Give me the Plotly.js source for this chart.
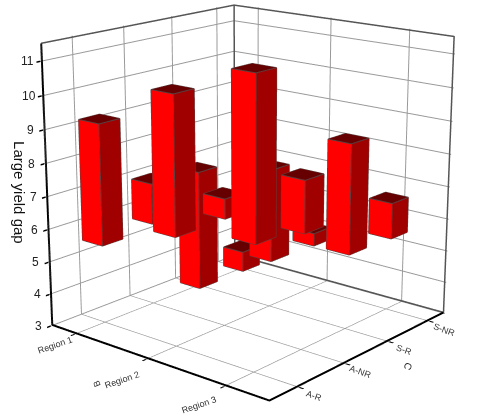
<!DOCTYPE html>
<html><head><meta charset="utf-8">
<script src="https://cdn.plot.ly/plotly-3.0.1.min.js"></script>
<style>html,body{margin:0;padding:0;width:500px;height:418px;overflow:hidden;background:#fff}
#wrap{position:absolute;left:0;top:0;width:500px;height:418px;overflow:hidden}
#plot{position:absolute;left:-500px;top:-444px;width:1500px;height:1254px}</style>
</head><body><div id="wrap"><div id="plot"></div></div>
<script>
const regions = ['Region 1','Region 2','Region 3'];
const categories = ['A-R','A-NR','S-R','S-NR'];
const lowValues = [
  [5.6,5.75,3.1,3.1],
  [6.48,6.5,4.65,4.6],
  [6.9,6.67,5.5,5.45]];
const highValues = [
  [9.25,7.0,6.9,3.75],
  [10.55,7.1,7.5,5.0],
  [11.53,8.2,8.8,6.55]];
const zTicks = [3,4,5,6,7,8,9,10,11];
const xTitle = 'B', yTitle = 'C', zTitle = 'Large yield gap';
const barHalfX = 0.143, barHalfY = 0.2;
const xRange = [0.65,3.55], yRange = [0.4,4.4], zRange = [3,11.55];
const regionLabelShift = [[-20,-12],[-25,-22],[-26,-20]];

const X=[],Y=[],Z=[],I=[],J=[],K=[],FC=[];
const ex=[],ey=[],ez=[];
const faces = [
  {q:[0,1,5,4],c:'#FF0000'},
  {q:[1,2,6,5],c:'#A00000'},
  {q:[4,5,6,7],c:'#660000'},
  {q:[0,1,2,3],c:'#FF0000'},
  {q:[0,3,7,4],c:'#FF0000'},
  {q:[3,2,6,7],c:'#A00000'}];
regions.forEach((r,ri)=>categories.forEach((c,ci)=>{
  const x0=ri+1-barHalfX,x1=ri+1+barHalfX,y0=ci+1-barHalfY,y1=ci+1+barHalfY,z0=lowValues[ri][ci],z1=highValues[ri][ci];
  const v=[[x0,y0,z0],[x1,y0,z0],[x1,y1,z0],[x0,y1,z0],[x0,y0,z1],[x1,y0,z1],[x1,y1,z1],[x0,y1,z1]];
  const b=X.length;
  v.forEach(p=>{X.push(p[0]);Y.push(p[1]);Z.push(p[2]);});
  faces.forEach(f=>{
    I.push(b+f.q[0]);J.push(b+f.q[1]);K.push(b+f.q[2]);FC.push(f.c);
    I.push(b+f.q[0]);J.push(b+f.q[2]);K.push(b+f.q[3]);FC.push(f.c);
  });
  [[0,1],[1,2],[0,4],[1,5],[2,6],[4,5],[5,6],[6,7],[7,4]].forEach(e=>{
    ex.push(v[e[0]][0],v[e[1]][0],null);ey.push(v[e[0]][1],v[e[1]][1],null);ez.push(v[e[0]][2],v[e[1]][2],null);
  });
}));
const bars={type:'mesh3d',x:X,y:Y,z:Z,i:I,j:J,k:K,facecolor:FC,flatshading:true,
  lighting:{ambient:1,diffuse:0,specular:0,roughness:1,fresnel:0},hoverinfo:'skip',showscale:false};
const edges={type:'scatter3d',mode:'lines',x:ex,y:ey,z:ez,line:{color:'#5a4040',width:2},hoverinfo:'skip',showlegend:false};
const inset=(r)=>{const d=(r[1]-r[0])*0.004;return [r[0]+d,r[1]-d];};
const [a0,a1]=inset(xRange),[b0,b1]=inset(yRange),[c0,c1]=inset(zRange);
const frame={type:'scatter3d',mode:'lines',hoverinfo:'skip',showlegend:false,line:{color:'#555',width:3},
 x:[a0,a0,null,a0,a1,a1,null,a0,a0,a1,a1,null,a0,a0],
 y:[b0,b0,null,b1,b1,b1,null,b0,b1,b1,b1,null,b1,b1],
 z:[c0,c1,null,c0,c0,c0,null,c1,c1,c1,c0,null,c0,c1]};
const black={type:'scatter3d',mode:'lines',hoverinfo:'skip',showlegend:false,line:{color:'#000',width:4},
 x:[a0,a0,null,a0,a1,a1],y:[b0,b0,null,b0,b0,b1],z:[c1,c0,null,c0,c0,c0]};
const tf={family:'Liberation Sans, Arial, sans-serif',size:9,color:'#333'};
const ann=[];
regions.forEach((r,i)=>ann.push({x:i+1,y:b0,z:c0,text:r,showarrow:false,textangle:-19,font:tf,xshift:regionLabelShift[i][0],yshift:regionLabelShift[i][1]}));
categories.forEach((r,i)=>ann.push({x:a1,y:i+1,z:c0,text:r,showarrow:false,textangle:20,font:tf,xshift:16,yshift:-10}));
zTicks.forEach(t=>ann.push({x:a0,y:b0,z:t,text:String(t),showarrow:false,font:{family:tf.family,size:12,color:'#222'},xshift:-14,yshift:0}));
ann.push({x:2,y:b0,z:c0,text:xTitle,showarrow:false,textangle:-110,font:tf,xshift:-50,yshift:-26});
ann.push({x:a1,y:2.8,z:c0,text:yTitle,showarrow:false,textangle:110,font:{family:tf.family,size:10,color:'#222'},xshift:28,yshift:-22});
ann.push({x:a0,y:b0,z:7.15,text:zTitle,showarrow:false,textangle:90,font:{family:tf.family,size:15,color:'#111'},xshift:-27,yshift:0});
const ax=(rng,tv)=>({range:rng,autorange:false,tickmode:'array',tickvals:tv,ticktext:tv.map(()=>''),showticklabels:false,
  showbackground:false,showgrid:true,gridcolor:'#999',gridwidth:2,zeroline:false,showline:false,showspikes:false,ticks:'outside',ticklen:4,tickwidth:3,tickcolor:'#000',title:{text:''}});
Plotly.newPlot('plot',[bars,edges,frame,black],{
 width:1500,height:1254,margin:{l:0,r:0,t:0,b:0},paper_bgcolor:'#fff',showlegend:false,
 scene:{domain:{x:[0,1],y:[0,1]},aspectmode:'manual',aspectratio:{x:1,y:1,z:1.018},
  camera:{eye:{x:3.25,y:-3.87,z:1.48},center:{x:0,y:0,z:0},up:{x:0,y:0,z:1},projection:{type:'perspective'}},
  xaxis:ax(xRange,[1,2,3]),yaxis:ax(yRange,[1,2,3,4]),zaxis:ax(zRange,zTicks),annotations:ann}
},{displayModeBar:false,staticPlot:false});
</script></body></html>
